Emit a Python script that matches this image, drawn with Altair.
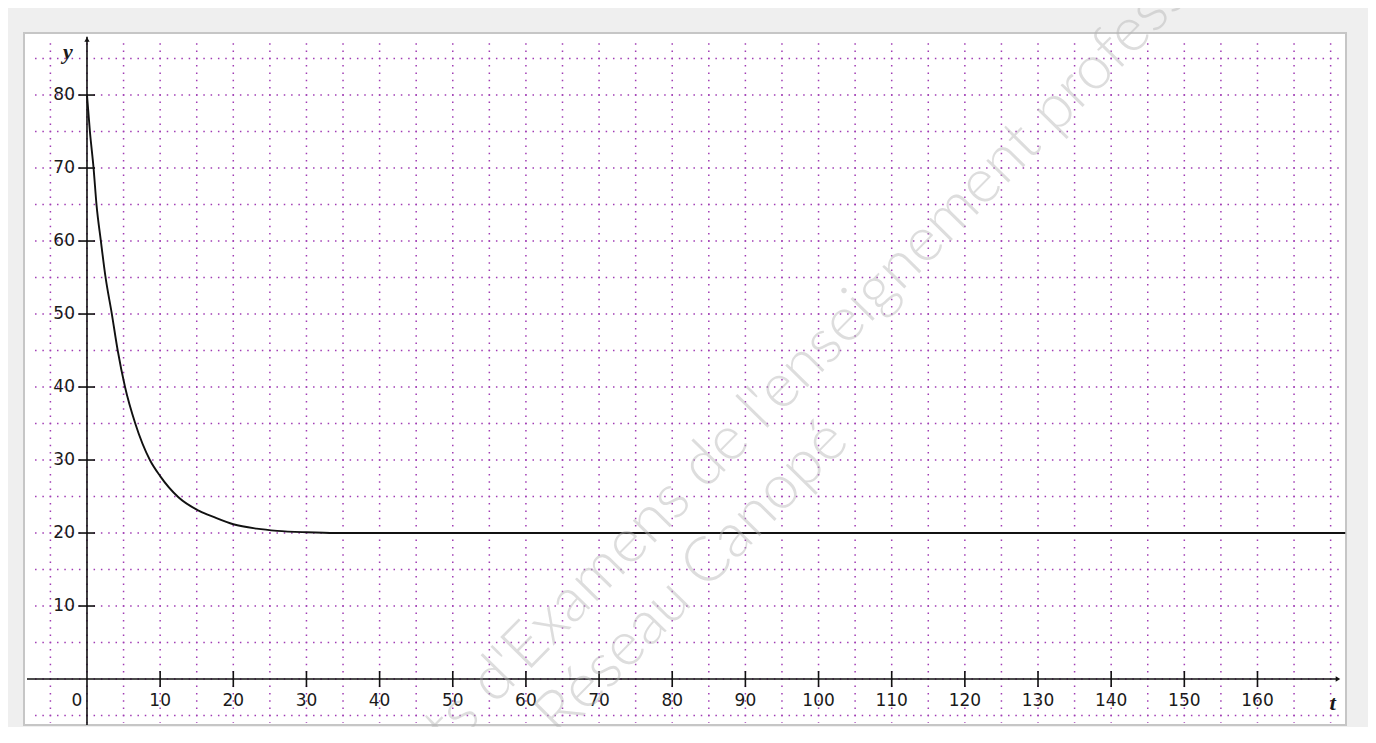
import altair as alt
import pandas as pd

# ---- data ----
T_VALUES = [0, 0.4, 0.9, 1.3, 1.9, 2.5, 3.4, 4.2, 5.2, 6.6, 8.6, 10, 12.5, 15.4, 17.3, 20, 23.2, 26, 30, 34, 172]
Y_VALUES = [80, 75, 70, 65, 60, 55.3, 50, 45, 40, 35, 30, 27.8, 24.9, 23.0, 22.2, 21.2, 20.6, 20.3, 20.1, 20.0, 20.0]

X_TICKS = [10, 20, 30, 40, 50, 60, 70, 80, 90, 100, 110, 120, 130, 140, 150, 160]
X_LABELS = [0] + X_TICKS
Y_TICKS = [10, 20, 30, 40, 50, 60, 70, 80]
X_GRID = list(range(-5, 171, 5))
Y_GRID = list(range(-5, 86, 5))
AXIS_NAMES = ["y", "t"]
AXIS_NAME_T = [-2.6, 170.3]
AXIS_NAME_Y = [85.9, -3.3]
WATERMARK = ["Sujets d'Examens de l'enseignement professionnel", "Réseau Canopé"]

X_MIN, X_MAX = -8.61, 172.1
Y_MIN, Y_MAX = -6.3, 88.5
W, H = 1322, 692
PX_X = W / (X_MAX - X_MIN)
PX_Y = H / (Y_MAX - Y_MIN)

xs = alt.Scale(domain=[X_MIN, X_MAX], nice=False, zero=False)
ys = alt.Scale(domain=[Y_MIN, Y_MAX], nice=False, zero=False)

GRID_COLOR = "#a03cb4"
INK = "#111111"

curve_df = pd.DataFrame({"t": T_VALUES, "y": Y_VALUES})

gv = pd.DataFrame({"x": X_GRID, "y": 87.1, "y2": -6.0})
gh = pd.DataFrame({"y": Y_GRID, "x": -7.1, "x2": 171.3})

grid_v = alt.Chart(gv).mark_rule(
    color=GRID_COLOR, strokeWidth=1.5, strokeDash=[1.5, PX_Y - 1.5]
).encode(
    x=alt.X("x:Q", scale=xs, axis=None),
    y=alt.Y("y:Q", scale=ys, axis=None),
    y2="y2:Q",
)
grid_h = alt.Chart(gh).mark_rule(
    color=GRID_COLOR, strokeWidth=1.5, strokeDash=[1.5, PX_X - 1.5]
).encode(
    x=alt.X("x:Q", scale=xs, axis=None),
    x2="x2:Q",
    y=alt.Y("y:Q", scale=ys, axis=None),
)

axis_h = alt.Chart(pd.DataFrame({"x": [-8.2], "x2": [171.0], "y": [0]})).mark_rule(
    color=INK, strokeWidth=1.6
).encode(
    x=alt.X("x:Q", scale=xs, axis=None), x2="x2:Q",
    y=alt.Y("y:Q", scale=ys, axis=None),
)
axis_v = alt.Chart(pd.DataFrame({"x": [0], "y": [Y_MIN], "y2": [88.0]})).mark_rule(
    color=INK, strokeWidth=1.6
).encode(
    x=alt.X("x:Q", scale=xs, axis=None),
    y=alt.Y("y:Q", scale=ys, axis=None), y2="y2:Q",
)

arrows_df = pd.DataFrame({"x": [0, 171.0], "y": [87.6, 0], "shape": ["triangle-up", "triangle-right"]})
arrows = alt.Chart(arrows_df).mark_point(filled=True, color=INK, size=28, opacity=1).encode(
    x=alt.X("x:Q", scale=xs, axis=None),
    y=alt.Y("y:Q", scale=ys, axis=None),
    shape=alt.Shape("shape:N", scale=None, legend=None),
)

xt = pd.DataFrame({"x": X_TICKS, "y": -1.1, "y2": 1.1})
x_ticks = alt.Chart(xt).mark_rule(color=INK, strokeWidth=1.6).encode(
    x=alt.X("x:Q", scale=xs, axis=None),
    y=alt.Y("y:Q", scale=ys, axis=None), y2="y2:Q",
)
yt = pd.DataFrame({"y": Y_TICKS, "x": -1.2, "x2": 1.1})
y_ticks = alt.Chart(yt).mark_rule(color=INK, strokeWidth=1.6).encode(
    x=alt.X("x:Q", scale=xs, axis=None), x2="x2:Q",
    y=alt.Y("y:Q", scale=ys, axis=None),
)

xl = pd.DataFrame({"x": X_LABELS, "y": 0, "label": [str(v) for v in X_LABELS]})
x_labels = alt.Chart(xl).transform_filter("datum.x > 0").mark_text(
    font="DejaVu Sans", fontSize=17, color="#1a1a1a", baseline="middle", align="center", dy=22
).encode(
    x=alt.X("x:Q", scale=xs, axis=None),
    y=alt.Y("y:Q", scale=ys, axis=None),
    text="label:N",
)
x_label0 = alt.Chart(xl).transform_filter("datum.x == 0").mark_text(
    font="DejaVu Sans", fontSize=17, color="#1a1a1a", baseline="middle", align="center", dy=22, dx=-10
).encode(
    x=alt.X("x:Q", scale=xs, axis=None),
    y=alt.Y("y:Q", scale=ys, axis=None),
    text="label:N",
)
yl = pd.DataFrame({"y": Y_TICKS, "x": 0, "label": [str(v) for v in Y_TICKS]})
y_labels = alt.Chart(yl).mark_text(
    font="DejaVu Sans", fontSize=17, color="#1a1a1a", baseline="middle", align="right", dx=-12
).encode(
    x=alt.X("x:Q", scale=xs, axis=None),
    y=alt.Y("y:Q", scale=ys, axis=None),
    text="label:N",
)

names_df = pd.DataFrame({"label": AXIS_NAMES, "x": AXIS_NAME_T, "y": AXIS_NAME_Y})
names = alt.Chart(names_df).mark_text(
    font="Liberation Serif", fontSize=22, fontStyle="italic", fontWeight="bold",
    color="#1a1a1a", baseline="middle", align="center"
).encode(
    x=alt.X("x:Q", scale=xs, axis=None),
    y=alt.Y("y:Q", scale=ys, axis=None),
    text="label:N",
)

curve = alt.Chart(curve_df).mark_line(color=INK, strokeWidth=1.9, interpolate="monotone").encode(
    x=alt.X("t:Q", scale=xs, axis=None),
    y=alt.Y("y:Q", scale=ys, axis=None),
)

wm_style = dict(font="Lato", fontWeight=300, fontSize=62, angle=314.5, color="#b4b4b4",
                opacity=0.45, align="center", baseline="middle")
wm1 = alt.Chart(pd.DataFrame({"label": [WATERMARK[0]]})).mark_text(**wm_style).encode(
    x=alt.value(800), y=alt.value(310), text="label:N")
wm2 = alt.Chart(pd.DataFrame({"label": [WATERMARK[1]]})).mark_text(**wm_style).encode(
    x=alt.value(668), y=alt.value(545), text="label:N")

chart = alt.layer(
    grid_v, grid_h, axis_h, axis_v, x_ticks, y_ticks, x_labels, x_label0, y_labels,
    curve, arrows, names, wm1, wm2
).properties(
    width=W, height=H,
    background="#efefef",
    padding={"left": 16, "top": 25, "right": 22, "bottom": 2},
    autosize=alt.AutoSizeParams(type="none"),
).configure_view(fill="white", stroke="#c6c6c6", strokeWidth=2)

chart.save("out.html", embed_options={"renderer": "svg", "actions": False})
